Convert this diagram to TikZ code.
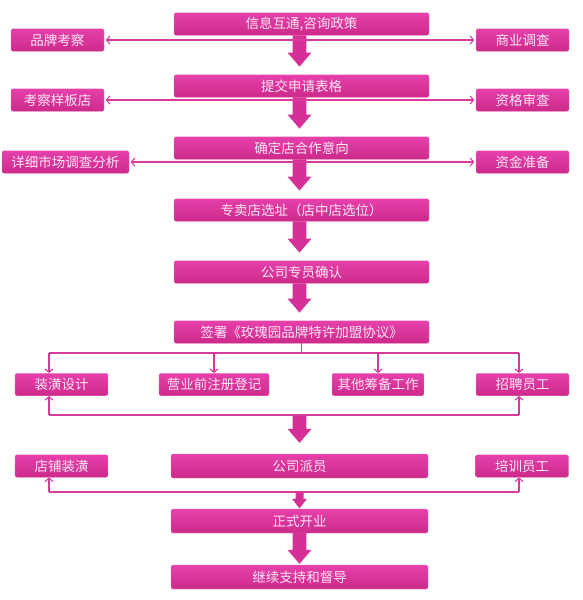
\documentclass[tikz,border=0pt]{standalone}
\usepackage{fontspec}
\setmainfont{Noto Sans CJK SC}
\usetikzlibrary{arrows.meta,calc}
\definecolor{boxtop}{HTML}{E640AB}
\definecolor{boxbot}{HTML}{CD2A8B}
\definecolor{txtcol}{HTML}{FCE6F4}
\definecolor{linecol}{HTML}{D93A9E}
\definecolor{arrcol}{HTML}{D72F98}
\tikzset{
  box/.style={rectangle, rounded corners=2pt, top color=boxtop, bottom color=boxbot,
    draw=boxbot!60!white, line width=0.3pt, text=txtcol, inner sep=0pt,
    font=\fontsize{13.5}{14}\selectfont, minimum height=22.5pt},
  conn/.style={draw=linecol, line width=1.4pt},
  tip/.style={-{Straight Barb[length=3.5pt,width=8pt,line width=1.1pt]}},
  dtip/.style={{Straight Barb[length=3.5pt,width=8pt,line width=1.1pt]}-{Straight Barb[length=3.5pt,width=8pt,line width=1.1pt]}}
}
% big arrow: #1 start, #2 target point, #3 gap above target
\newcommand\bigarrow[3]{\fill[arrcol] let \p1=(#1), \p2=(#2) in
  (\x2-6.8pt,\y1) -- (\x2-6.8pt,\y2+#3+14pt) -- (\x2-12pt,\y2+#3+14pt) -- (\x2,\y2+#3)
  -- (\x2+12pt,\y2+#3+14pt) -- (\x2+6.8pt,\y2+#3+14pt) -- (\x2+6.8pt,\y1) -- cycle;}
\newcommand\smallarrow[2]{\fill[arrcol] let \p1=(#1), \p2=(#2) in
  (\x2-4pt,\y1) -- (\x2-4pt,\y2+10pt) -- (\x2-7.5pt,\y2+10pt) -- (\x2,\y2+0.5pt)
  -- (\x2+7.5pt,\y2+10pt) -- (\x2+4pt,\y2+10pt) -- (\x2+4pt,\y1) -- cycle;}
\begin{document}
\begin{tikzpicture}[x=1pt,y=-1pt]
\useasboundingbox (0,0) rectangle (582,600);
\coordinate (ax) at (299.5,0);
% main column
\node[box, minimum width=255pt] (m1) at (301.5,24) {信息互通,咨询政策};
\node[box, minimum width=255pt] (m2) at (301.5,86) {提交申请表格};
\node[box, minimum width=255pt] (m3) at (301.5,148) {确定店合作意向};
\node[box, minimum width=255pt] (m4) at (301.5,210) {专卖店选址（店中店选位）};
\node[box, minimum width=255pt] (m5) at (301.5,272) {公司专员确认};
\node[box, minimum width=255pt] (m6) at (301.5,332) {签署《玫瑰园品牌特许加盟协议》};
\node[box, minimum width=257pt, minimum height=24pt] (m7) at (299.5,466) {公司派员};
\node[box, minimum width=257pt, minimum height=24pt] (m8) at (299.5,521) {正式开业};
\node[box, minimum width=257pt, minimum height=24pt] (m9) at (299.5,577) {继续支持和督导};
% side boxes
\node[box, minimum width=93pt] (l1) at (57.5,40) {品牌考察};
\node[box, minimum width=93pt] (r1) at (522.5,40) {商业调查};
\node[box, minimum width=93pt] (l2) at (57.5,100) {考察样板店};
\node[box, minimum width=93pt] (r2) at (522.5,100) {资格审查};
\node[box, minimum width=127pt] (l3) at (65.5,162) {详细市场调查分析};
\node[box, minimum width=93pt] (r3) at (522.5,162) {资金准备};
% branch row
\node[box, minimum width=93pt] (b1) at (61.5,384.5) {装潢设计};
\node[box, minimum width=110pt] (b2) at (214,384.5) {营业前注册登记};
\node[box, minimum width=92pt] (b3) at (378,384.5) {其他筹备工作};
\node[box, minimum width=93pt] (b4) at (522.5,384.5) {招聘员工};
\node[box, minimum width=93pt] (c1) at (61.5,466) {店铺装潢};
\node[box, minimum width=93pt] (c4) at (522,466) {培训员工};
% big arrows
\bigarrow{m1.south -| ax}{m2.north -| ax}{8pt}
\bigarrow{m2.south -| ax}{m3.north -| ax}{8pt}
\bigarrow{m3.south -| ax}{m4.north -| ax}{8pt}
\bigarrow{m4.south -| ax}{m5.north -| ax}{8pt}
\bigarrow{m5.south -| ax}{m6.north -| ax}{8pt}
\coordinate (M1) at (49,415);
\coordinate (M4) at (519,415);
\bigarrow{M1 -| ax}{m7.north -| ax}{11pt}
\bigarrow{m8.south -| ax}{m9.north -| ax}{1pt}
% side connectors
\draw[conn, dtip] ([xshift=1.5pt]l1.east) -- ([xshift=-1.5pt]r1.west);
\draw[conn, dtip] ([xshift=1.5pt]l2.east) -- ([xshift=-1.5pt]r2.west);
\draw[conn, dtip] ([xshift=1.5pt]l3.east) -- ([xshift=-1.5pt]r3.west);
% branches
\coordinate (L1) at (49,353);
\coordinate (L4) at (519,353);
\draw[conn] (m6.south) -- (m6.south |- L1);
\draw[conn] (L1) -- (L4);
\draw[conn, tip] (L1) -- (L1 |- b1.north);
\draw[conn, tip] (b2.north |- L1) -- (b2.north);
\draw[conn, tip] (b3.north |- L1) -- (b3.north);
\draw[conn, tip] (L4) -- (L4 |- b4.north);
\draw[conn] (M1) -- (M4);
\draw[conn, tip] (M1) -- (M1 |- b1.south);
\draw[conn, tip] (M4) -- (M4 |- b4.south);
% bottom connectors
\coordinate (N1) at (49,492);
\coordinate (N4) at (519,492);
\draw[conn] (N1) -- (N4);
\draw[conn, tip] (N1) -- (N1 |- c1.south);
\draw[conn, tip] (N4) -- (N4 |- c4.south);
\smallarrow{N1 -| ax}{m8.north -| ax}
\end{tikzpicture}
\end{document}
